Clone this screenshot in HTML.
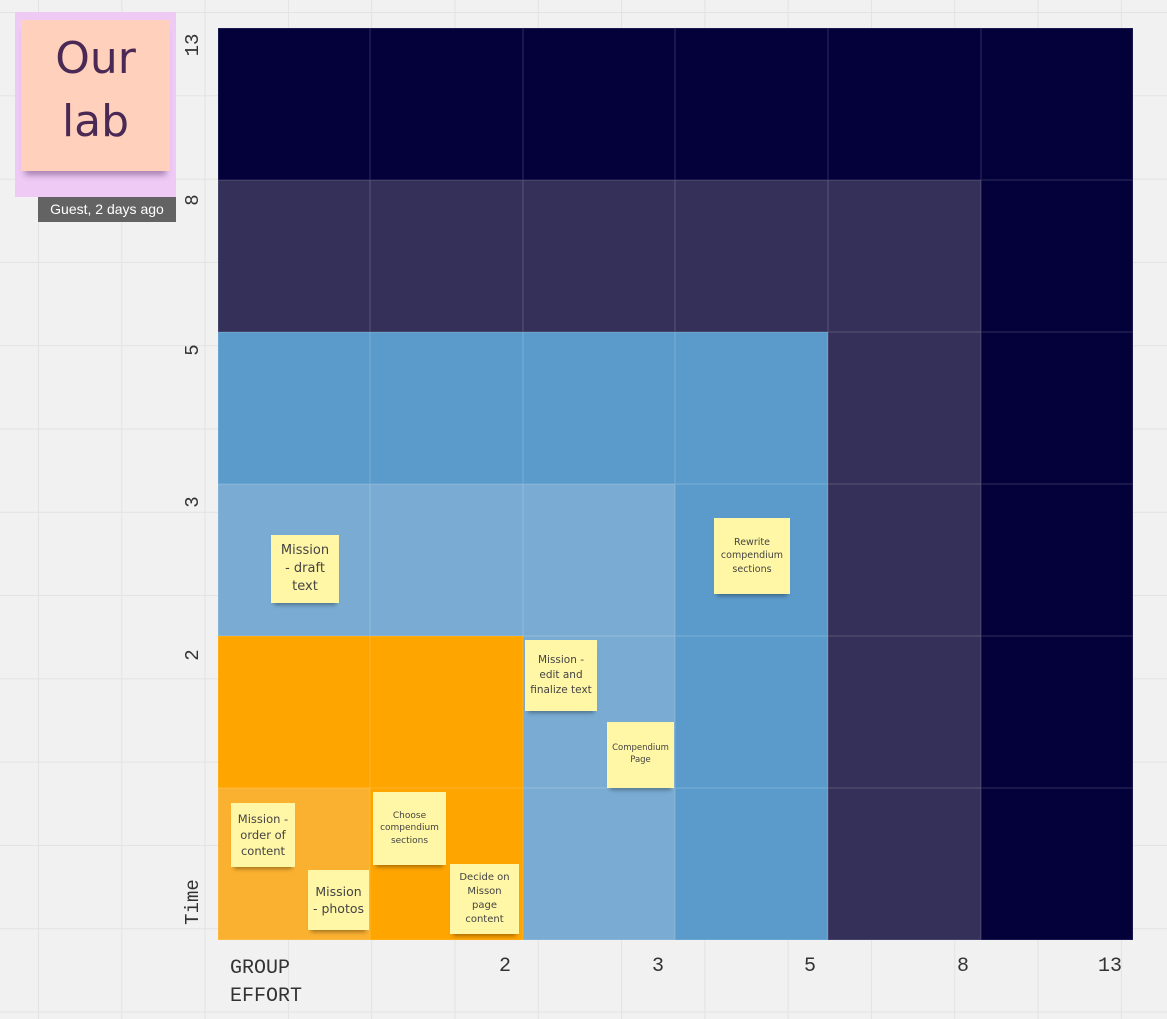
<!DOCTYPE html>
<html><head><meta charset="utf-8"><style>
body{margin:0;width:1167px;height:1019px;overflow:hidden;position:relative;font-family:"Liberation Sans",sans-serif;
background-color:#f1f1f1;
background-image:linear-gradient(to right,#e3e3e3 1px,transparent 1px),linear-gradient(to bottom,#e3e3e3 1px,transparent 1px);
background-size:83.3px 83.3px;background-position:38px 12px;}
.c{position:absolute;box-shadow:inset 0 0 0 0.5px rgba(255,255,255,0.18);}
.s{position:absolute;background:#fff6a6;color:#444;text-align:center;display:flex;align-items:center;justify-content:center;line-height:1.4;box-shadow:0 5px 4px -3px rgba(0,0,0,0.35);font-family:"DejaVu Sans",sans-serif;}
.y{position:absolute;font-family:"Liberation Mono",monospace;font-size:19px;color:#333;transform:rotate(-90deg);transform-origin:center;width:60px;text-align:center;}
.x{position:absolute;font-family:"Liberation Mono",monospace;font-size:20px;color:#333;text-align:right;width:40px;top:955px;}
</style></head><body>
<div id="g"></div>
<script>
const X=[218,370,523,675,828,981,1133],Y=[28,180,332,484,636,788,940];
const N='#03003a',P='#34305a',B='#5b9bcb',L='#7aacd3',O='#ffa500',Q='#fbb130';
const M=[[N,N,N,N,N,N],[P,P,P,P,P,N],[B,B,B,B,P,N],[L,L,L,B,P,N],[O,O,L,B,P,N],[Q,O,L,B,P,N]];
let h='';for(let r=0;r<6;r++)for(let c=0;c<6;c++)h+=`<div class="c" style="left:${X[c]}px;top:${Y[r]}px;width:${X[c+1]-X[c]}px;height:${Y[r+1]-Y[r]}px;background:${M[r][c]}"></div>`;
document.getElementById('g').innerHTML=h;
</script>
<div style="position:absolute;left:15px;top:12px;width:161px;height:185px;background:#eecaf5"></div>
<div style="position:absolute;left:21px;top:20px;width:149px;height:151px;background:#ffd0bb;box-shadow:0 8px 6px -4px rgba(80,40,90,0.45);color:#4a2a55;font-family:'DejaVu Sans',sans-serif;font-size:44px;text-align:center;line-height:63px;padding-top:7px;box-sizing:border-box">Our<br>lab</div>
<div style="position:absolute;left:38px;top:197px;width:138px;height:25px;background:#636363;color:#fff;font-size:14px;line-height:24px;text-align:center">Guest, 2 days ago</div>
<div class="y" style="left:163px;top:34px">13</div>
<div class="y" style="left:163px;top:189px">8</div>
<div class="y" style="left:163px;top:339px">5</div>
<div class="y" style="left:163px;top:491px">3</div>
<div class="y" style="left:163px;top:644px">2</div>
<div class="y" style="left:163px;top:891px">Time</div>
<div class="x" style="left:230px;text-align:left;width:120px;line-height:28px">GROUP<br>EFFORT</div>
<div class="x" style="left:471px">2</div>
<div class="x" style="left:624px">3</div>
<div class="x" style="left:776px">5</div>
<div class="x" style="left:929px">8</div>
<div class="x" style="left:1082px">13</div>
<div class="s" style="left:271px;top:535px;width:68px;height:68px;font-size:13px">Mission<br>- draft<br>text</div>
<div class="s" style="left:714px;top:518px;width:76px;height:76px;font-size:9.5px">Rewrite<br>compendium<br>sections</div>
<div class="s" style="left:525px;top:640px;width:72px;height:71px;font-size:10.5px">Mission -<br>edit and<br>finalize text</div>
<div class="s" style="left:607px;top:722px;width:67px;height:66px;font-size:8.5px">Compendium<br>Page</div>
<div class="s" style="left:231px;top:803px;width:64px;height:64px;font-size:11.5px">Mission -<br>order of<br>content</div>
<div class="s" style="left:308px;top:870px;width:61px;height:60px;font-size:12.5px">Mission<br>- photos</div>
<div class="s" style="left:373px;top:792px;width:73px;height:73px;font-size:9px">Choose<br>compendium<br>sections</div>
<div class="s" style="left:450px;top:864px;width:69px;height:70px;font-size:10px">Decide on<br>Misson<br>page<br>content</div>
</body></html>
